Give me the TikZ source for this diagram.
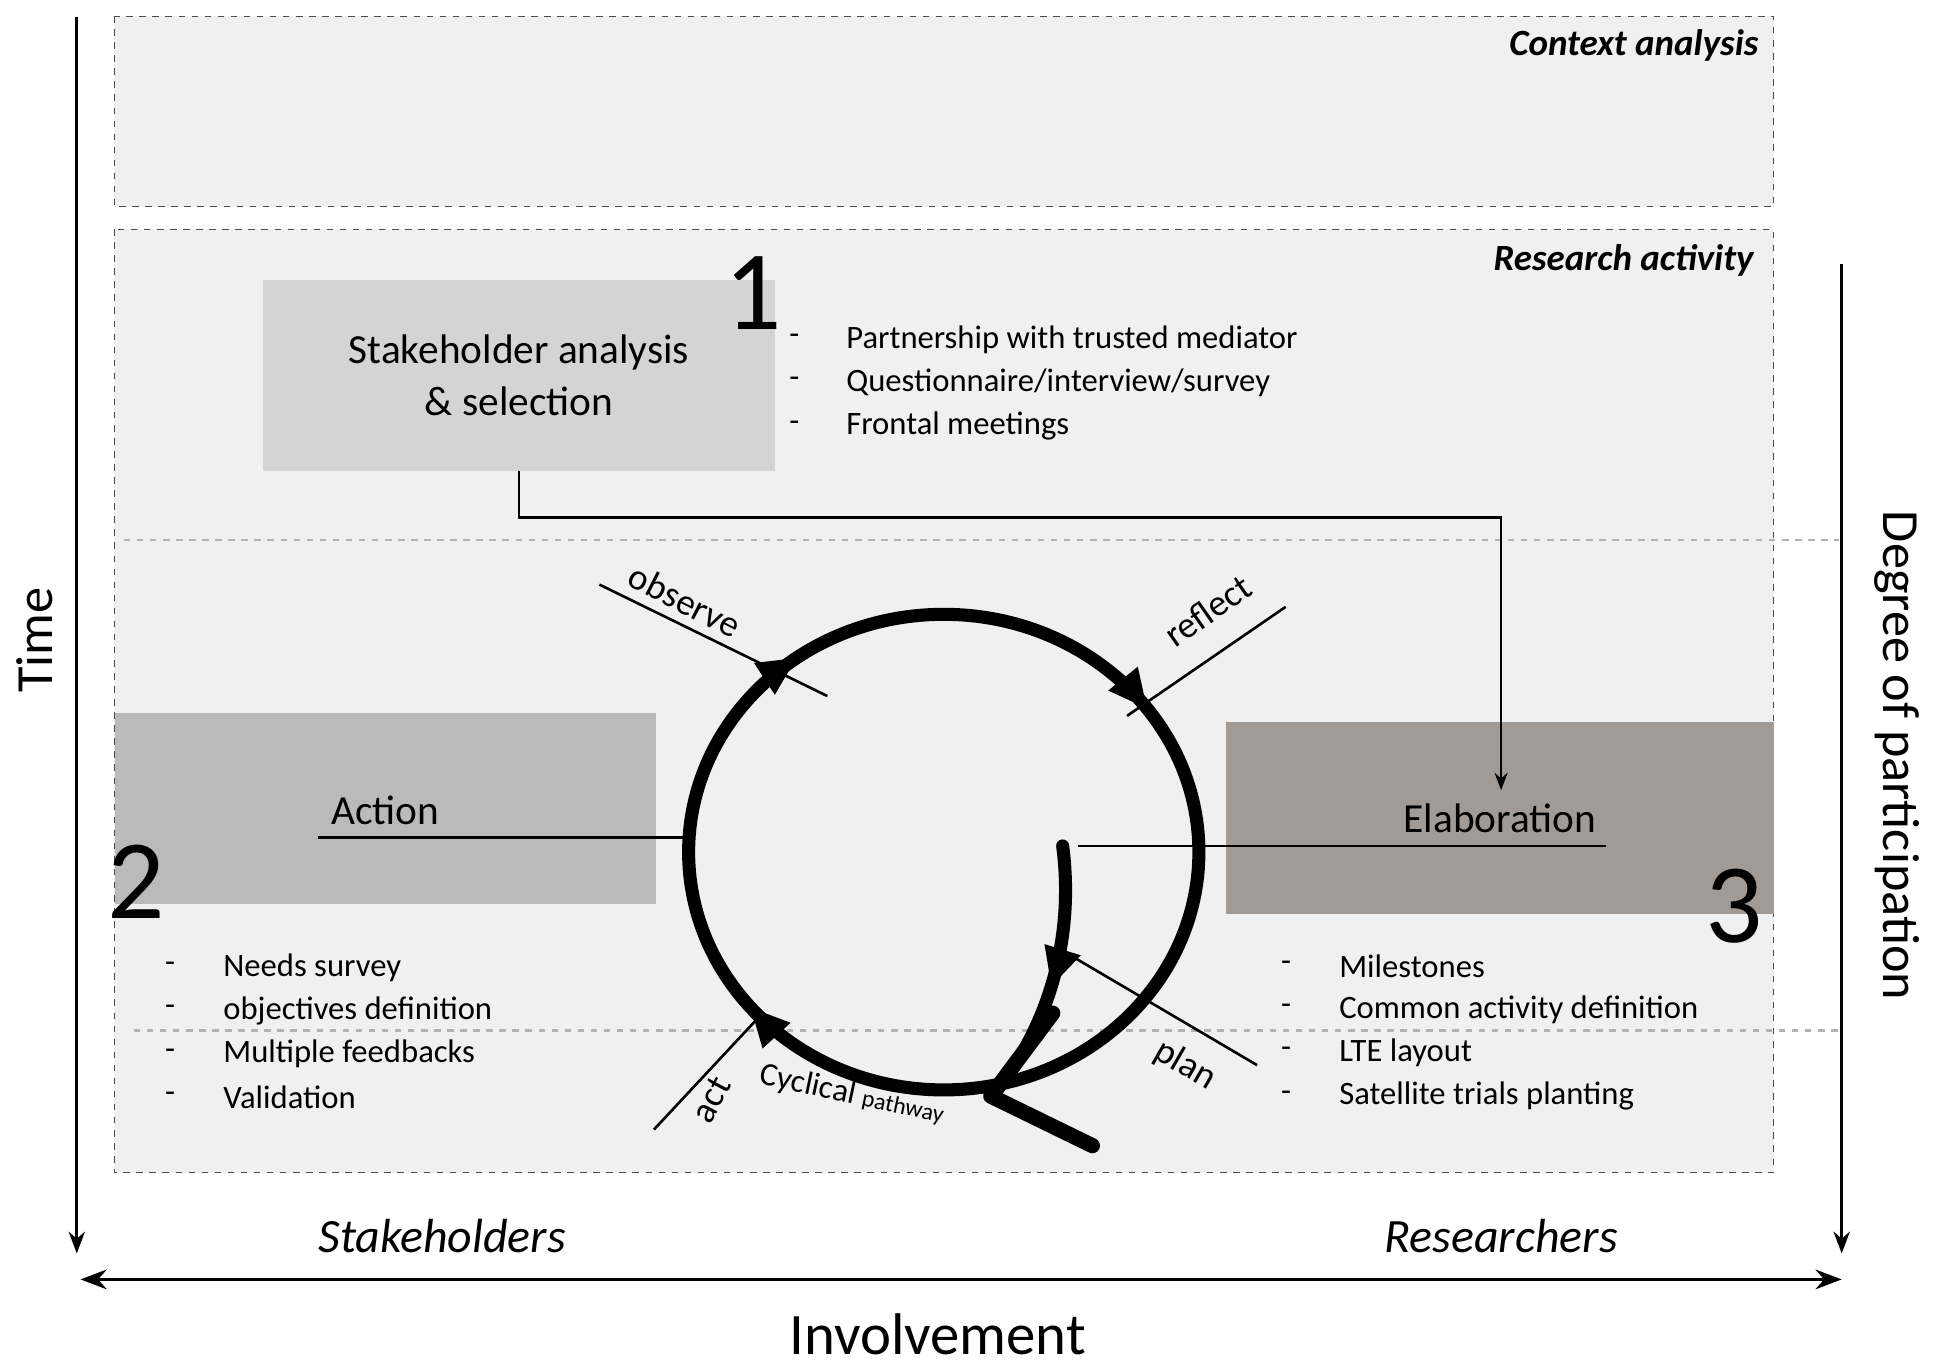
\documentclass[tikz,border=0pt]{standalone}
\usepackage{fontspec}
\setmainfont{Carlito}
\usetikzlibrary{arrows.meta,decorations.markings,calc}
\definecolor{elabgray}{RGB}{160,155,151}

\begin{document}
\begin{tikzpicture}[x=0.02cm, y=-0.02cm,
				phase/.style={
				% The shape:
				rectangle, draw=none,
				% The filling:
				fill=#1,
				font=\fontsize{19}{22}\selectfont, align=center
				},
				frame/.style={
				% The border:
				draw=black!70, dashed, thin,
				% The filling:
				fill=black!6
				},
				sep/.style={draw=black!30, dashed, line width=1.2pt},
				item/.style={anchor=west, font=\fontsize{15}{18}\selectfont, inner sep=0pt},
				num/.style={font=\fontsize{52}{56}\selectfont},
				side/.style={font=\fontsize{22}{26}\selectfont\itshape},
				head/.style={anchor=east, font=\fontsize{17}{20}\selectfont\bfseries\itshape},
				cue/.style={font=\fontsize{17}{20}\selectfont},
				]
    \useasboundingbox (0,0) rectangle (1568,1103);
    % frames
    \draw[frame] (92,13) rectangle (1432,167);
    \draw[frame] (92,185) rectangle (1432,947);
    \node[head] (ctx) at (1426,37) {Context analysis};
    \node[head] (res) at (1422,210) {Research activity};
    \draw[sep] (100,436) -- (1485,436);
    \draw[sep] (108,832) -- (1485,832);
    % axes
    \draw[-{Stealth[length=10pt]}, line width=1.2pt] (62,14) -- (62,1012);
    \draw[-{Stealth[length=10pt]}, line width=1.2pt] (1487,213) -- (1487,1012);
    \draw[{Stealth[length=12pt]}-{Stealth[length=12pt]}, line width=1.6pt] (65,1033) -- (1487,1033);
    \node[rotate=90, font=\fontsize{24}{28}\selectfont] (time) at (28,517) {Time};
    \node[rotate=-90, font=\fontsize{24}{28}\selectfont] (deg) at (1532,610) {Degree of participation};
    \node[font=\fontsize{27}{30}\selectfont] (inv) at (757,1077) {Involvement};
    \node[side] (stk) at (357,998) {Stakeholders};
    \node[side] (rsc) at (1212,998) {Researchers};
    % phases
    \node[phase=black!17, minimum width=414*0.02cm, minimum height=154*0.02cm] (sel) at (419,303) {Stakeholder analysis\\[2pt] \& selection};
    \node[phase=black!27, minimum width=437*0.02cm, minimum height=154*0.02cm] (act) at (311.5,653) {};
    \node[phase=elabgray, minimum width=442*0.02cm, minimum height=155*0.02cm] (ela) at (1211,660.5) {};
    \node[font=\fontsize{19}{22}\selectfont] (actt) at (311,654) {Action};
    \node[font=\fontsize{19}{22}\selectfont] (elat) at (1211,661) {Elaboration};
    \node[num] (n1) at (608,237) {1};
    \node[num] (n2) at (110,712) {2};
    \node[num] (n3) at (1400,732) {3};
    % lists
    \foreach \t [count=\i] in {Partnership with trusted mediator, Questionnaire/interview/survey, Frontal meetings}
      {\node[item] at (637,239+35*\i) {-}; \node[item] at (683,239+35*\i) {\t};}
    \foreach \t [count=\i] in {Needs survey, objectives definition, Multiple feedbacks, Validation}
      {\node[item] at (133,746+35*\i) {-}; \node[item] at (180,746+35*\i) {\t};}
    \foreach \t [count=\i] in {Milestones, Common activity definition, LTE layout, Satellite trials planting}
      {\node[item] at (1034,745+35*\i) {-}; \node[item] at (1081,745+35*\i) {\t};}
    % connector
    \draw[-{Stealth[length=8pt]}, line width=1.2pt] (sel.south) |- (1212,418) -- (1212,638);
    % cycle
    \coordinate (c) at (762,688);
    \draw[line width=1.2pt] (257,676) -- (555,676);
    \draw[line width=1.2pt] (870,683) -- (1297,683);
    \draw[line width=1.2pt] (484,472) -- (668,562);
    \draw[line width=1.2pt] (1038,490) -- (910,578);
    \draw[line width=1.2pt] (528,912) -- (612,822);
    \draw[line width=1.2pt] (862,770) -- (1015,860);
    \draw[line width=6pt, postaction={decorate}, decoration={markings,
        mark=at position 0.39 with {\arrow{Triangle[length=18pt,width=16pt]}},
        mark=at position 0.65 with {\arrow{Triangle[length=18pt,width=16pt]}},
        mark=at position 0.9 with {\arrow{Triangle[length=18pt,width=16pt]}}}]
        (c) ellipse [x radius=206, y radius=192];
    \draw[line width=6pt, line cap=round, postaction={decorate}, decoration={markings,
        mark=at position 0.55 with {\arrow{Triangle[length=18pt,width=16pt]}}}]
        (858,683) .. controls (868,760) and (845,830) .. (805,880);
    \draw[line width=7pt, line cap=round, line join=round] (850,818) -- (800,885) -- (882,925);
    \node[cue, rotate=-27] (obs) at (553,485) {observe};
    \node[cue, rotate=35] (ref) at (975,493) {reflect};
    \node[cue, rotate=62] (actl) at (574,888) {act};
    \node[cue, rotate=-30] (pln) at (957,860) {plan};
    \node[rotate=-12, inner sep=0pt] (cyc) at (688,884) {\fontsize{15}{18}\selectfont Cyclical \fontsize{11}{13}\selectfont pathway};
\end{tikzpicture}
\end{document}
